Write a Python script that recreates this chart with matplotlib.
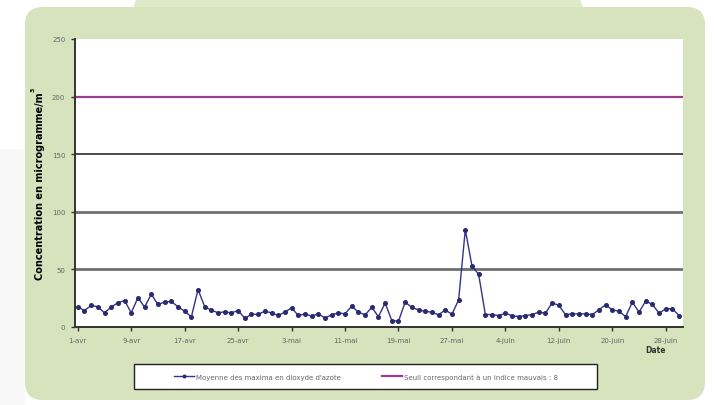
import matplotlib
matplotlib.use("Agg")
import matplotlib.pyplot as plt
import matplotlib.patches as mpatches
import numpy as np
import pandas as pd

# daily maxima average NO2 (1 april -> 30 june)
values = [17.5, 14.3, 18.7, 17.5, 12.3, 17.3, 21, 23, 12.3, 25.4,
          17.3, 28.4, 19.6, 21.6, 22.2, 17.5, 13.7, 8.8, 32.5, 17.5,
          14.6, 12.3, 13.2, 12.3, 14.3, 7.6, 11, 11, 13.7, 12.3,
          10, 12.9, 16.7, 10, 11.4, 9.4, 11.4, 7.9, 10.5, 12.3,
          11.4, 18.1, 12.9, 10.5, 17, 9, 20.8, 5.6, 5, 21.6,
          17, 14.9, 13.6, 12.9, 10.5, 14.9, 11, 23.5, 84.5, 53,
          45.6, 10.8, 10.8, 9.9, 12, 9.9, 9, 9.9, 10.8, 12.9,
          12, 21, 18.7, 10.8, 11.4, 11.4, 11.4, 10.8, 14.9, 19.3,
          14.9, 13.7, 9, 21.6, 12.9, 22.5, 19.6, 12, 15.8, 15.8,
          9.9]
dates = pd.date_range("2010-04-01", periods=len(values), freq="D")
seuil = 200

tick_labels = ["1-avr", "9-avr", "17-avr", "25-avr", "3-mai", "11-mai",
               "19-mai", "27-mai", "4-juin", "12-juin", "20-juin", "28-juin"]
y_ticks = [0, 50, 100, 150, 200, 250]

serie_label = "Moyenne des maxima en dioxyde d'azote"
seuil_label = "Seuil correspondant à un indice mauvais : 8"

W, H = 715, 406
green = "#d6e3bd"
fig = plt.figure(figsize=(W / 100, H / 100), dpi=100, facecolor="white")


def fx(px):
    return px / W


def fy(py):
    return 1 - py / H


# faint grey shading on the left margin
shade = mpatches.Rectangle((0, 0), fx(25), fy(150), transform=fig.transFigure,
                           facecolor="#f8f8f8", edgecolor="none", zorder=-4)
fig.patches.append(shade)

# background panel + top tab
tab = mpatches.Polygon([(fx(133), fy(10)), (fx(136), fy(0)), (fx(580), fy(0)), (fx(584), fy(10))],
                       closed=True, transform=fig.transFigure, facecolor="#dfeaca",
                       edgecolor="none", zorder=-3)
fig.patches.append(tab)
panel = mpatches.FancyBboxPatch((fx(25), fy(401)), fx(705) - fx(25), fy(8) - fy(401),
                                boxstyle="round,pad=0,rounding_size=0.025",
                                mutation_aspect=W / H,
                                transform=fig.transFigure, facecolor=green,
                                edgecolor="none", zorder=-2)
fig.patches.append(panel)

ax = fig.add_axes([fx(75), fy(328), fx(683) - fx(75), fy(40) - fy(328)])
ax.set_facecolor("white")

ax.axhline(50, color="#707070", lw=2.0, zorder=1)
ax.axhline(100, color="#707070", lw=2.0, zorder=1)
ax.axhline(150, color="#4a4a4a", lw=1.4, zorder=1)

ax.axhline(seuil, color="#9a3d8c", lw=1.6, zorder=2, label=seuil_label)
ax.plot(dates, values, color="#33338a", lw=1.0, marker="o", markersize=2.6,
        markerfacecolor="#2a2a70", markeredgecolor="#2a2a70", zorder=3, label=serie_label)

ax.set_ylim(0, 250)
ax.set_xlim(dates[0] - pd.Timedelta(hours=10), dates[-1] + pd.Timedelta(hours=14))
ax.set_yticks(y_ticks)
ax.set_yticklabels([str(v) for v in y_ticks])
ax.set_xticks(dates[::8])
ax.set_xticklabels(tick_labels)

ax.tick_params(axis="both", labelsize=5, colors="#333333", length=3, width=1,
               labelcolor="#666666", direction="out", pad=4)
for s in ["top", "right"]:
    ax.spines[s].set_visible(False)
for s in ["left", "bottom"]:
    ax.spines[s].set_color("#333333")
    ax.spines[s].set_linewidth(1.4)

# y label with raised exponent
fig.text(fx(40), fy(186), "Concentration en microgramme/m", rotation=90, fontsize=7,
         fontweight="bold", ha="center", va="center")
fig.text(fx(33), fy(90), "3", rotation=90, fontsize=4.5, fontweight="bold",
         ha="center", va="center")

fig.text(fx(656), fy(351), "Date", fontsize=5.5, fontweight="bold", color="#333333",
         ha="center", va="center")

# legend box
box = mpatches.Rectangle((fx(134), fy(390)), fx(597) - fx(134), fy(365) - fy(390),
                         transform=fig.transFigure, facecolor="white",
                         edgecolor="#222222", lw=1.0, zorder=-1)
fig.patches.append(box)
handles, labels = ax.get_legend_handles_labels()
fig.legend(handles[::-1], labels[::-1], loc="center", bbox_to_anchor=(fx(366), fy(377.5)),
           ncol=2, frameon=False, fontsize=5, handlelength=2.9, handletextpad=0.3,
           columnspacing=5.8, labelcolor="#666666", markerscale=0.7)

fig.savefig("out.png", dpi=100, facecolor="white")
